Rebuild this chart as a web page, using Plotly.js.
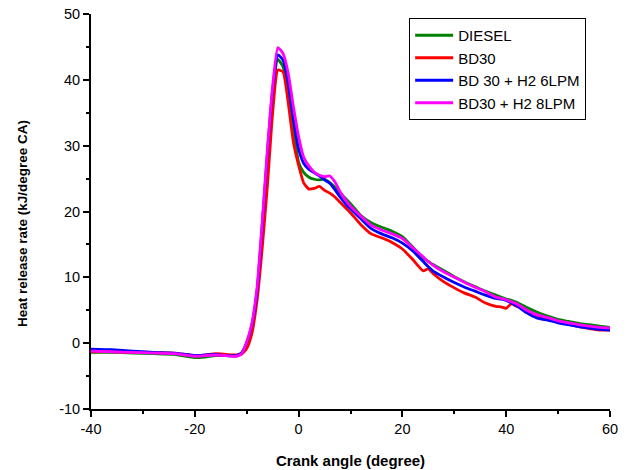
<!DOCTYPE html>
<html>
<head>
<meta charset="utf-8">
<script src="https://cdn.plot.ly/plotly-3.0.1.min.js"></script>
<style>html,body{margin:0;padding:0;background:#fff;}#chart{width:627px;height:470px;}</style>
</head>
<body>
<div id="chart"></div>
<script>
const crankAngle = [-40,-36,-32,-28,-24,-20,-18,-16,-14,-12,-11,-10,-9,-8,-7,-6,-5,-4,-3,-2,-1,0,1,2,3,4,5,6,7,8,9,10,12,14,16,18,20,22,24,25,26,28,30,32,34,36,38,39,40,41,42,44,46,48,50,52,54,56,58,60];

const diesel = [-1.4,-1.4,-1.5,-1.6,-1.7,-2.2,-2.1,-1.9,-1.9,-1.9,-1.5,0.0,2.5,7.5,17,28,38,43.1,42.0,38.0,32.5,27.5,25.9,25.2,24.9,24.8,24.9,24.4,23.7,22.8,22.0,21.2,19.4,18.3,17.6,17.0,16.2,14.6,12.9,12.4,11.9,11.0,10.1,9.3,8.6,7.9,7.3,7.0,6.7,6.5,6.2,5.4,4.7,4.1,3.6,3.3,3.0,2.8,2.6,2.4];

const bd30 = [-1.3,-1.3,-1.4,-1.4,-1.5,-1.9,-1.8,-1.6,-1.7,-1.8,-1.7,-0.8,1.5,6.5,14.5,24.0,35.0,41.5,41.2,36.5,30.5,27.0,24.3,23.4,23.5,23.8,23.2,22.8,22.2,21.4,20.6,19.8,18.0,16.6,16.0,15.3,14.3,12.7,11.0,11.3,10.5,9.3,8.4,7.6,7.0,6.1,5.6,5.5,5.3,6.0,5.6,4.9,4.2,3.7,3.3,2.9,2.5,2.2,2.0,2.0];

const bd30h6 = [-0.9,-1.0,-1.2,-1.4,-1.5,-1.9,-1.8,-1.7,-1.9,-1.9,-1.5,0.1,2.8,8.0,18,29,38.5,43.8,43.0,39.5,34.0,29.5,27.3,26.4,25.9,25.4,24.8,24.3,23.3,22.2,21.2,20.4,18.9,17.4,16.6,16.0,15.2,14.0,12.4,11.6,10.9,10.0,9.2,8.5,7.9,7.3,6.8,6.7,6.5,6.1,5.7,4.6,3.8,3.5,3.1,2.8,2.5,2.3,2.1,2.0];

const bd30h8 = [-1.2,-1.3,-1.4,-1.5,-1.6,-2.0,-1.9,-1.8,-1.9,-2.0,-1.6,0.2,3.0,8.5,18.5,29.5,39.0,44.9,44.0,41.0,35.9,31.4,28.2,26.9,26.0,25.5,25.3,25.4,24.5,23.0,21.8,20.8,19.3,17.9,17.2,16.6,15.9,14.5,13.1,12.4,11.8,10.8,10.0,9.2,8.5,7.8,7.0,6.8,6.6,6.3,6.0,5.0,4.3,3.9,3.4,3.1,2.8,2.6,2.4,2.3];

const seriesNames = ['DIESEL','BD30','BD 30 + H2 6LPM','BD30 + H2 8LPM'];
const seriesValues = [diesel, bd30, bd30h6, bd30h8];
const seriesColors = ['#008000','#FF0000','#0000FF','#FF00FF'];

const xTickVals = [-40,-20,0,20,40,60];
const xTickText = ['-40','-20','0','20','40','60'];
const yTickVals = [-10,0,10,20,30,40,50];
const yTickText = ['-10','0','10','20','30','40','50'];

const traces = seriesNames.map((n,i)=>({
  x: crankAngle, y: seriesValues[i], name: n, type:'scatter', mode:'lines',
  line:{color:seriesColors[i], width:2.8, shape:'spline', smoothing:0.5}
}));

const FF = 'Liberation Sans, Arial, sans-serif';
const axisFont = {family:FF, size:14.5, color:'#000'};
const layout = {
  width:627, height:470,
  margin:{l:91, r:17, t:14, b:61},
  paper_bgcolor:'#fff', plot_bgcolor:'#fff',
  font:axisFont,
  showlegend:true,
  legend:{x:0.613, y:1-(18-14)/395, xanchor:'left', yanchor:'top', bordercolor:'#000', borderwidth:1,
    bgcolor:'#fff', font:{family:FF, size:15, color:'#000'}, tracegroupgap:0, itemwidth:38},
  xaxis:{range:[-40,60], tickmode:'array', tickvals:xTickVals, ticktext:xTickText,
    ticks:'outside', ticklen:6, tickwidth:2, tickcolor:'#000',
    showline:true, linewidth:2, linecolor:'#000', showgrid:false, zeroline:false,
    minor:{tickmode:'linear', tick0:-40, dtick:10, ticks:'outside', ticklen:3, tickwidth:2, tickcolor:'#000', showgrid:false},
    tickfont:axisFont,
    title:{text:'<b>Crank angle (degree)</b>', font:{family:FF, size:15, color:'#000'}, standoff:19}},
  yaxis:{range:[-10,50], tickmode:'array', tickvals:yTickVals, ticktext:yTickText,
    ticks:'outside', ticklen:6, tickwidth:2, tickcolor:'#000',
    showline:true, linewidth:2, linecolor:'#000', showgrid:false, zeroline:false,
    minor:{tickmode:'linear', tick0:-10, dtick:5, ticks:'outside', ticklen:3, tickwidth:2, tickcolor:'#000', showgrid:false},
    tickfont:axisFont},
  annotations:[{text:'<b>Heat release rate (kJ/degree CA)</b>', textangle:-90, showarrow:false,
    xref:'paper', yref:'paper', x:-(91-23)/519, y:1-(224-14)/395, xanchor:'center', yanchor:'middle',
    font:{family:FF, size:13.5, color:'#000'}}]
};
Plotly.newPlot('chart', traces, layout, {displayModeBar:false, staticPlot:true});
</script>
</body>
</html>
